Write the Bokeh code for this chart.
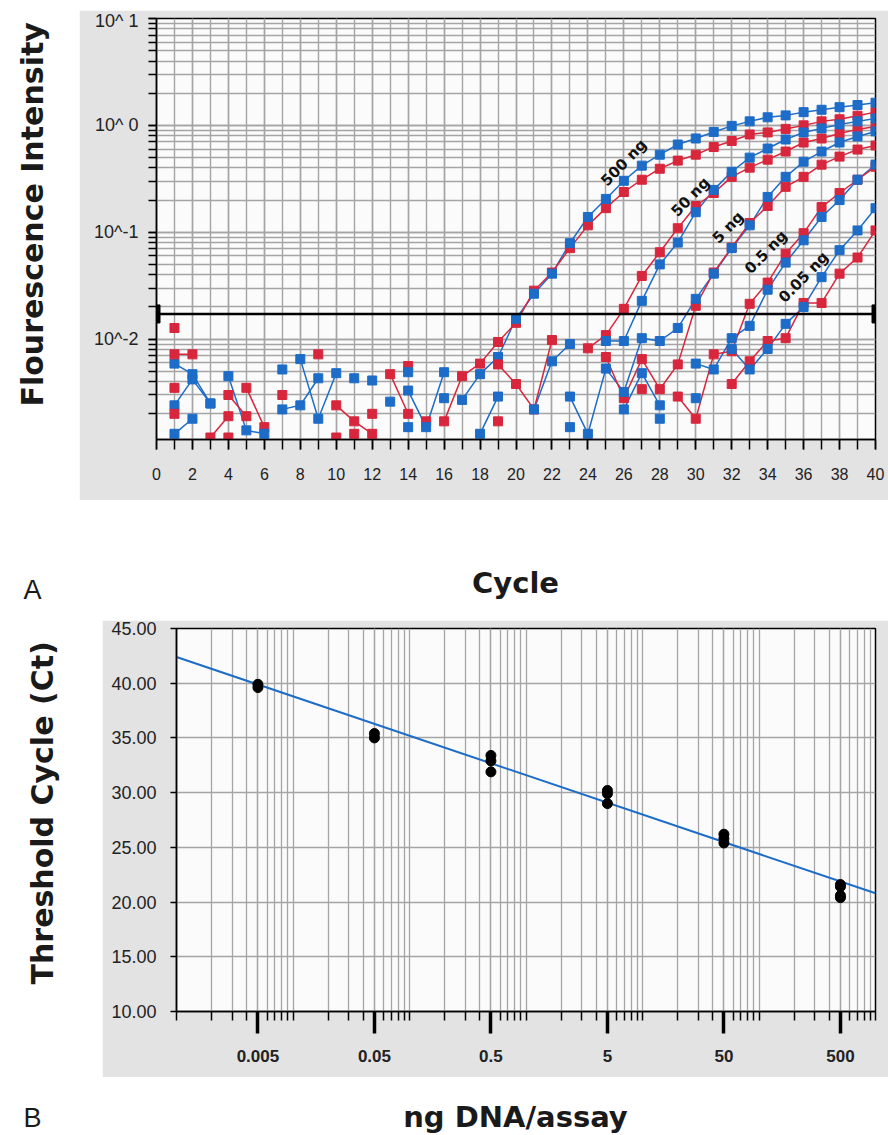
import math
from bokeh.plotting import figure
from bokeh.models import Range1d, FixedTicker, Span, Label, PrintfTickFormatter
from bokeh.layouts import column, row
from bokeh.embed import file_html
from bokeh.resources import INLINE
from bokeh.core.properties import value

nan = float("nan")

# ---------------- Panel A data (amplification plot) ----------------
CYCLES = list(range(1, 41))
CYCLE_RANGE = (0, 40)
FLUOR_RANGE = (0.00115, 10.0)
THRESHOLD = 0.0172

BLUE_500 = [0.0059, 0.0047, 0.0025, nan, nan, nan, 0.0052, nan, nan, nan,
            0.0043, nan, 0.0026, nan, nan, nan, 0.0027, 0.0047, 0.0068, 0.0155,
            0.0266, 0.041, 0.079, 0.139, 0.205, 0.303, 0.420, 0.532, 0.662, 0.754,
            0.868, 0.989, 1.09, 1.19, 1.24, 1.33, 1.40, 1.48, 1.55, 1.63]
RED_500 = [0.0127, nan, nan, 0.0030, 0.0019, nan, nan, nan, 0.0072, nan,
           nan, nan, 0.0047, 0.0020, nan, 0.0017, 0.0045, 0.0059, 0.0094, 0.0142,
           0.0284, 0.042, 0.071, 0.116, 0.168, 0.238, 0.310, 0.393, 0.468, 0.532,
           0.627, 0.714, 0.822, 0.859, 0.927, 1.00, 1.09, 1.14, 1.23, 1.33]
BLUE_50 = [0.0024, 0.0042, 0.0025, nan, nan, nan, 0.0022, 0.0024, 0.0043, nan,
           nan, 0.0041, nan, 0.0049, nan, 0.0028, nan, 0.0013, 0.0029, nan,
           0.0022, 0.0062, 0.0090, nan, 0.0096, 0.0096, 0.0228, 0.050, 0.080, 0.154,
           0.249, 0.368, 0.499, 0.607, 0.738, 0.859, 0.937, 1.02, 1.09, 1.16]
RED_50 = [0.0072, 0.0072, nan, nan, 0.0035, 0.0015, nan, nan, nan, 0.0024,
          0.0017, 0.0013, nan, 0.0056, nan, nan, nan, nan, 0.0058, 0.0038,
          0.0022, 0.0098, nan, 0.0082, 0.0109, 0.0192, 0.039, 0.065, 0.109, 0.176,
          0.233, 0.330, 0.402, 0.478, 0.569, 0.691, 0.754, 0.840, 0.917, 0.978]
BLUE_5 = [0.0013, 0.0018, nan, 0.0045, 0.0014, 0.0013, nan, 0.0065, 0.0018, 0.0048,
          nan, nan, nan, 0.0033, 0.0015, 0.0049, nan, nan, nan, nan,
          nan, nan, 0.0029, 0.0013, 0.0053, 0.0032, 0.0102, 0.0096, 0.0127, 0.0238,
          0.041, 0.071, 0.116, 0.214, 0.330, 0.457, 0.569, 0.691, 0.788, 0.878]
RED_5 = [0.0035, nan, 0.0012, 0.0019, nan, nan, 0.0030, nan, nan, 0.0012,
         nan, 0.0020, nan, nan, 0.0017, nan, nan, nan, 0.0017, nan,
         nan, nan, nan, nan, 0.0068, 0.0028, 0.0065, 0.0034, 0.0058, 0.0205,
         0.042, 0.072, 0.122, 0.176, 0.266, 0.330, 0.429, 0.510, 0.594, 0.648]
BLUE_05 = [nan, nan, nan, nan, nan, nan, nan, nan, nan, nan,
           nan, nan, nan, 0.0015, nan, nan, nan, nan, nan, nan,
           nan, nan, 0.0015, nan, nan, 0.0022, 0.0048, 0.0024, nan, 0.0059,
           0.0052, 0.0102, 0.0133, 0.029, 0.052, 0.084, 0.139, 0.200, 0.310, 0.430]
RED_05 = [0.0020, nan, nan, 0.0012, nan, nan, nan, nan, nan, nan,
          0.0013, nan, nan, nan, nan, nan, nan, nan, nan, nan,
          nan, nan, nan, nan, nan, nan, 0.0034, nan, 0.0029, 0.0018,
          0.0072, 0.0077, 0.0214, 0.0338, 0.063, 0.098, 0.172, 0.233, 0.310, 0.410]
BLUE_005 = [nan, nan, nan, nan, nan, nan, nan, nan, nan, nan,
            nan, nan, nan, nan, nan, nan, nan, nan, nan, nan,
            nan, nan, nan, nan, nan, nan, nan, 0.0018, nan, 0.0028,
            nan, 0.0081, 0.0052, 0.0081, 0.0139, 0.0200, 0.038, 0.068, 0.104, 0.168]
RED_005 = [nan, nan, nan, nan, nan, nan, nan, nan, nan, nan,
           nan, nan, nan, nan, nan, nan, nan, nan, nan, nan,
           nan, nan, nan, nan, nan, nan, nan, nan, nan, nan,
           nan, 0.0038, 0.0062, 0.0096, 0.0102, 0.0218, 0.0218, 0.041, 0.058, 0.104]

BLUE_SERIES = [BLUE_500, BLUE_50, BLUE_5, BLUE_05, BLUE_005]
RED_SERIES = [RED_500, RED_50, RED_5, RED_05, RED_005]

CURVE_LABELS = ["500 ng", "50 ng", "5 ng", "0.5 ng", "0.05 ng"]
CURVE_LABEL_CYCLE = [26.0, 29.7, 31.8, 33.9, 36.0]
CURVE_LABEL_FLUOR = [0.448, 0.214, 0.111, 0.065, 0.038]

CYCLE_TICKS = list(range(0, 41, 2))
CYCLE_MINOR = list(range(0, 41))
FLUOR_TICKS = [0.01, 0.1, 1.0, 10.0]
FLUOR_TICK_LABELS = ["10^-2", "10^-1", "10^ 0", "10^ 1"]
FLUOR_MINOR = [k * 10.0 ** e for e in (-3, -2, -1, 0) for k in range(1, 10)] + [10.0]

# ---------------- Panel B data (standard curve) ----------------
CONC = [0.005, 0.005, 0.05, 0.05, 0.5, 0.5, 0.5, 5, 5, 5, 50, 50, 50, 500, 500, 500, 500]
CT = [39.9, 39.6, 35.4, 35.0, 33.4, 32.9, 31.9, 30.2, 29.9, 29.0, 26.2, 25.8, 25.4,
      21.6, 21.4, 20.6, 20.4]
FIT_CONC = [0.001, 1000.0]
FIT_CT = [42.4, 20.8]
CONC_RANGE = (0.001, 1000.0)
CT_RANGE = (10.0, 45.0)
CONC_TICKS = [0.005, 0.05, 0.5, 5.0, 50.0, 500.0]
CONC_TICK_LABELS = ["0.005", "0.05", "0.5", "5", "50", "500"]
CONC_MINOR = [k * 10.0 ** e for e in (-3, -2, -1, 0, 1, 2) for k in range(1, 10)] + [1000.0]
CT_TICKS = [10, 15, 20, 25, 30, 35, 40, 45]

# ---------------- styles ----------------
BLUE = "#1c6cc8"
RED = "#d8263c"
GRID = "#a5a5a5"
PANEL_GRAY = "#e3e3e3"
FRAME_BG = "#fbfbfb"
TXT = "#1a1a1a"
TITLE_FONT = "DejaVu Sans"
TICK_FONT = "Liberation Sans"


def text_panel(width, height):
    p = figure(width=width, height=height, x_range=Range1d(0, width), y_range=Range1d(0, height),
               output_backend="svg", toolbar_location=None, min_border=0,
               x_axis_location=None, y_axis_location=None, outline_line_color=None,
               background_fill_color="white", border_fill_color="white")
    p.grid.visible = False
    return p


def title_label(x, y, text, size, angle=0.0, bold=True, align="center", baseline="middle"):
    return Label(x=x, y=y, text=text, angle=angle, text_font=TITLE_FONT if bold else TICK_FONT,
                 text_font_style="bold" if bold else "normal", text_font_size=size,
                 text_color=TXT, text_align=align, text_baseline=baseline)


def style_axis(ax):
    ax.axis_line_color = "black"
    ax.axis_line_width = 1.5
    ax.major_tick_line_color = "black"
    ax.minor_tick_line_color = "black"
    ax.major_tick_in = 0
    ax.minor_tick_in = 0
    ax.major_label_text_font = TICK_FONT
    ax.major_label_text_color = "#222222"


# top white strip
top_pad = text_panel(888, 10)

# ================= Panel A =================
WA, HA = 809, 490
pA = figure(width=WA, height=HA, x_range=Range1d(*CYCLE_RANGE), y_range=Range1d(*FLUOR_RANGE),
            y_axis_type="log", output_backend="svg", toolbar_location=None,
            min_border_left=77, min_border_right=13, min_border_top=8, min_border_bottom=61,
            background_fill_color=FRAME_BG, border_fill_color=PANEL_GRAY,
            outline_line_color="black", outline_line_width=1.5)

pA.xaxis.ticker = FixedTicker(ticks=CYCLE_TICKS, minor_ticks=CYCLE_MINOR)
pA.yaxis.ticker = FixedTicker(ticks=FLUOR_TICKS, minor_ticks=FLUOR_MINOR)
pA.yaxis.major_label_overrides = dict(zip(FLUOR_TICKS, FLUOR_TICK_LABELS))
for ax in (pA.xaxis[0], pA.yaxis[0]):
    style_axis(ax)
    ax.major_tick_line_width = 1.5
    ax.minor_tick_line_width = 1.5

pA.xaxis.major_tick_out = 10
pA.xaxis.minor_tick_out = 10
pA.xaxis.major_label_text_font_size = "16px"
pA.xaxis.major_label_standoff = 18

pA.yaxis.major_tick_out = 8
pA.yaxis.minor_tick_out = 8
pA.yaxis.major_label_text_font_size = "18px"
pA.yaxis.major_label_standoff = 10

for g in (pA.xgrid[0], pA.ygrid[0]):
    g.grid_line_color = GRID
    g.grid_line_width = 1.4
    g.minor_grid_line_color = GRID
    g.minor_grid_line_width = 1.4

for ys in BLUE_SERIES:
    pA.line(CYCLES, ys, line_color=BLUE, line_width=1.5)
for ys in RED_SERIES:
    pA.line(CYCLES, ys, line_color=RED, line_width=1.5)
for blue, red in zip(BLUE_SERIES, RED_SERIES):
    pA.scatter(CYCLES, red, marker="square", size=9, fill_color=RED, line_color=RED)
    pA.scatter(CYCLES, blue, marker="square", size=9, fill_color=BLUE, line_color=BLUE)

pA.add_layout(Span(location=THRESHOLD, dimension="width", line_color="black", line_width=2.5))
pA.rect(x=list(CYCLE_RANGE), y=[THRESHOLD, THRESHOLD], width=7, height=18,
        width_units="screen", height_units="screen", fill_color="black", line_color="black")

pA.text(x=CURVE_LABEL_CYCLE, y=CURVE_LABEL_FLUOR, text=CURVE_LABELS, angle=math.radians(46),
        text_font=value(TITLE_FONT), text_font_style="bold", text_font_size="15px",
        text_color="#111111", text_align="center", text_baseline="middle")

# y-axis title of panel A (on white, left of the grey panel)
ylA = text_panel(79, HA)
ylA.add_layout(title_label(32, 262, "Flourescence Intensity", "30px", angle=math.pi / 2))

# x-axis title of panel A and panel letter
labA = text_panel(888, 120)
labA.add_layout(title_label(515, 38, "Cycle", "29px"))
labA.add_layout(title_label(23, 16, "A", "27px", bold=False, align="left", baseline="bottom"))

# ================= Panel B =================
WB, HB = 786, 457
pB = figure(width=WB, height=HB, x_range=Range1d(*CONC_RANGE), y_range=Range1d(*CT_RANGE),
            x_axis_type="log", output_backend="svg", toolbar_location=None,
            min_border_left=74, min_border_right=13, min_border_top=8, min_border_bottom=66,
            background_fill_color=FRAME_BG, border_fill_color=PANEL_GRAY,
            outline_line_color="black", outline_line_width=1.5)

pB.xaxis.ticker = FixedTicker(ticks=CONC_TICKS, minor_ticks=CONC_MINOR)
pB.xaxis.major_label_overrides = dict(zip(CONC_TICKS, CONC_TICK_LABELS))
pB.yaxis.ticker = FixedTicker(ticks=CT_TICKS)
pB.yaxis.formatter = PrintfTickFormatter(format="%.2f")
for ax in (pB.xaxis[0], pB.yaxis[0]):
    style_axis(ax)

pB.xaxis.major_tick_out = 22
pB.xaxis.major_tick_line_width = 3.5
pB.xaxis.minor_tick_out = 9
pB.xaxis.minor_tick_line_width = 1.5
pB.xaxis.major_label_text_font_size = "17px"
pB.xaxis.major_label_text_font_style = "bold"
pB.xaxis.major_label_standoff = 16

pB.yaxis.major_tick_out = 6
pB.yaxis.major_tick_line_width = 1.5
pB.yaxis.minor_tick_out = 0
pB.yaxis.major_label_text_font_size = "18px"
pB.yaxis.major_label_standoff = 14

for g in (pB.xgrid[0], pB.ygrid[0]):
    g.grid_line_color = GRID
    g.grid_line_width = 1.3
pB.xgrid.minor_grid_line_color = GRID
pB.xgrid.minor_grid_line_width = 1.3

pB.line(FIT_CONC, FIT_CT, line_color=BLUE, line_width=2)
pB.scatter(CONC, CT, marker="circle", size=10, fill_color="black", line_color="black")

ylB = text_panel(102, HB)
ylB.add_layout(title_label(42, 237, "Threshold Cycle (Ct)", "30px", angle=math.pi / 2))

labB = text_panel(888, 58)
labB.add_layout(title_label(515, 19, "ng DNA/assay", "29px"))
labB.add_layout(title_label(23, 3, "B", "27px", bold=False, align="left", baseline="bottom"))

layout = column(top_pad, row(ylA, pA, spacing=0), labA, row(ylB, pB, spacing=0), labB, spacing=0)
open("out.html", "w").write(file_html(layout, INLINE))
